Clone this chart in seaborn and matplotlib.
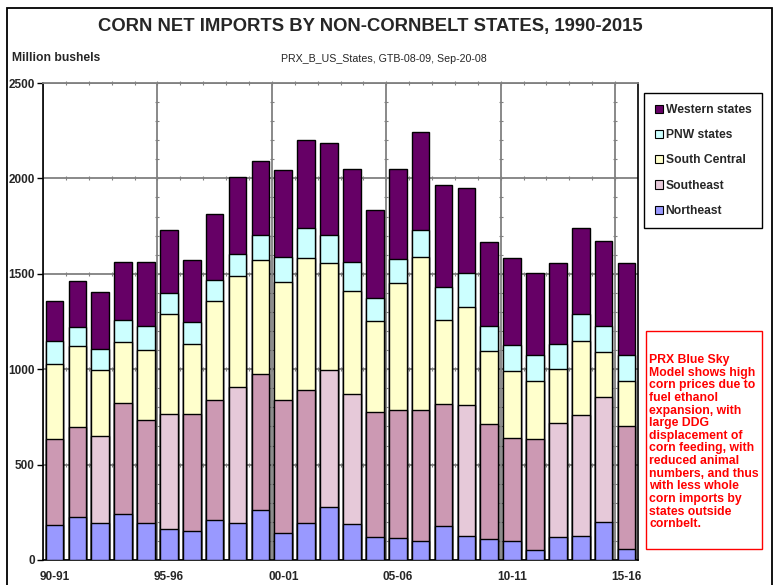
import numpy as np
import pandas as pd
import matplotlib.pyplot as plt
import seaborn as sns
from matplotlib.patches import Patch, Rectangle

# crop years 1990-91 .. 2015-16
seasons = ['90-91', '91-92', '92-93', '93-94', '94-95', '95-96', '96-97', '97-98',
           '98-99', '99-00', '00-01', '01-02', '02-03', '03-04', '04-05', '05-06',
           '06-07', '07-08', '08-09', '09-10', '10-11', '11-12', '12-13', '13-14',
           '14-15', '15-16']
tick_seasons = ['90-91', '95-96', '00-01', '05-06', '10-11', '15-16']

# million bushels
northeast = [183, 227, 192, 239, 196, 161, 150, 212, 192, 260, 142, 192, 280,
             187, 122, 114, 101, 177, 124, 108, 98, 51, 121, 128, 198, 56]
southeast = [453, 472, 458, 583, 540, 606, 614, 627, 715, 717, 697, 698, 718,
             683, 654, 673, 686, 638, 689, 603, 542, 584, 597, 634, 655, 647]
south_central = [390, 421, 345, 318, 365, 520, 367, 517, 584, 593, 619, 695, 561,
                 541, 476, 664, 800, 445, 515, 385, 353, 302, 284, 386, 236, 236]
pnw = [122, 100, 110, 117, 123, 111, 114, 114, 115, 133, 129, 154, 142,
       152, 122, 127, 145, 172, 174, 133, 134, 135, 129, 140, 136, 134]
western = [210, 243, 297, 307, 337, 333, 325, 346, 402, 386, 458, 463, 487,
           487, 461, 472, 511, 534, 447, 437, 457, 431, 426, 453, 446, 484]

regions = ['Western states', 'PNW states', 'South Central', 'Southeast', 'Northeast']
colors = {'Western states': '#660066', 'PNW states': '#CCFFFF',
          'South Central': '#FFFFCC', 'Southeast': '#CC99B3', 'Northeast': '#9999FF'}
se_light_color = '#E6C9D9'
# the original renders some Southeast segments in a lighter shade
se_light = [0, 0, 1, 0, 0, 1, 0, 0, 1, 0, 0, 0, 1, 1, 0, 0, 0, 0, 1, 0, 0, 0, 1, 1, 1, 0]

df = pd.DataFrame({'Northeast': northeast, 'Southeast': southeast,
                   'South Central': south_central, 'PNW states': pnw,
                   'Western states': western})
stack = df.cumsum(axis=1)
stack['season'] = seasons

sns.set_style('white')
plt.rcParams['font.family'] = ['Liberation Sans', 'DejaVu Sans']

W, H = 774, 585
def fx(x):
    return x / W
def fy(y):
    return 1 - y / H

fig = plt.figure(figsize=(W / 100, H / 100), dpi=100)
ax = fig.add_axes([fx(43), fy(560), 595 / W, 477 / H])

bar_kw = dict(x='season', order=seasons, width=0.77, saturation=1,
              edgecolor='black', linewidth=1, errorbar=None, ax=ax, zorder=3)
# draw cumulative totals from the top down so each segment overlaps the next
for reg in regions:
    if reg == 'Southeast':
        pal = [se_light_color if f else colors[reg] for f in se_light]
        sns.barplot(data=stack, y=reg, hue='season', palette=pal, legend=False, **bar_kw)
    else:
        sns.barplot(data=stack, y=reg, color=colors[reg], **bar_kw)

ax.set_xlim(-0.5, len(seasons) - 0.5)
ax.set_ylim(0, 2500)
ax.set_xlabel('')
ax.set_ylabel('')
ax.set_axisbelow(True)

ax.set_yticks(range(0, 2501, 500))
ax.set_xticks([seasons.index(s) for s in tick_seasons], tick_seasons)
bounds = np.arange(-0.5, len(seasons), 5)
ax.set_xticks(bounds, minor=True)
ax.tick_params(axis='x', which='major', length=0, pad=8)
ax.tick_params(axis='x', which='minor', length=4, direction='out', color='black', width=1)
ax.tick_params(axis='y', length=4, direction='out', color='black', width=1, pad=2)
ax.tick_params(axis='y', left=True)
for lab in ax.get_xticklabels() + ax.get_yticklabels():
    lab.set_fontweight('bold')
    lab.set_fontsize(8.5)

ax.grid(axis='x', which='minor', color='#808080', lw=1.3)
ax.grid(axis='y', which='major', color='#808080', lw=1.3)

# small Excel-style marks along the gridlines
cat_edges = np.arange(0.5, len(seasons) - 1, 1)
for yv in range(500, 2501, 500):
    ax.plot(cat_edges, [yv] * len(cat_edges), ls='none', marker='|', ms=3,
            color='#808080', mew=0.8, zorder=1, clip_on=False)
for xv in bounds[1:]:
    ys = np.arange(100, 2500, 100)
    ax.plot([xv] * len(ys), ys, ls='none', marker='_', ms=3,
            color='#808080', mew=0.8, zorder=1)

for side in ['left', 'bottom', 'right']:
    ax.spines[side].set_color('black')
    ax.spines[side].set_linewidth(1.2)
ax.spines['top'].set_color('#808080')
ax.spines['top'].set_linewidth(1.3)

fig.text(fx(370), fy(27), 'CORN NET IMPORTS BY NON-CORNBELT STATES, 1990-2015',
         ha='center', va='center', fontsize=13.3, fontweight='bold')
fig.text(fx(12), fy(58), 'Million bushels', ha='left', va='center',
         fontsize=8.7, fontweight='bold')
fig.text(fx(384), fy(59), 'PRX_B_US_States, GTB-08-09, Sep-20-08', ha='center',
         va='center', fontsize=7.7)

handles = [Patch(facecolor=se_light_color if r == 'Southeast' else colors[r],
                 edgecolor='black', linewidth=0.8) for r in regions]
leg = fig.legend(handles, regions, loc='upper left', bbox_to_anchor=(fx(644), fy(93)),
                 frameon=True, fancybox=False, edgecolor='black',
                 prop={'weight': 'bold', 'size': 8.7}, handlelength=0.65,
                 handleheight=0.65, handletextpad=0.25, labelspacing=1.1,
                 borderpad=0.9, borderaxespad=0)
leg.get_frame().set_linewidth(1)
leg.get_frame().set_alpha(1)

fig.add_artist(Rectangle((fx(646), fy(549)), 116 / W, 218 / H, transform=fig.transFigure,
                         fill=False, edgecolor='red', linewidth=1))
note = ('PRX Blue Sky\nModel shows high\ncorn prices due to\nfuel ethanol\n'
        'expansion, with\nlarge DDG\ndisplacement of\ncorn feeding, with\n'
        'reduced animal\nnumbers, and thus\nwith less whole\ncorn imports by\n'
        'states outside\ncornbelt.')
fig.text(fx(649), fy(354), note, ha='left', va='top', color='red', fontsize=8.8,
         fontweight='bold', linespacing=1.07)

# outer chart frame
fig.add_artist(Rectangle((fx(7), -0.05), 765 / W, 1.05 - 8 / H, transform=fig.transFigure,
                         fill=False, edgecolor='black', linewidth=1.3))

fig.savefig('out.png', dpi=100)
